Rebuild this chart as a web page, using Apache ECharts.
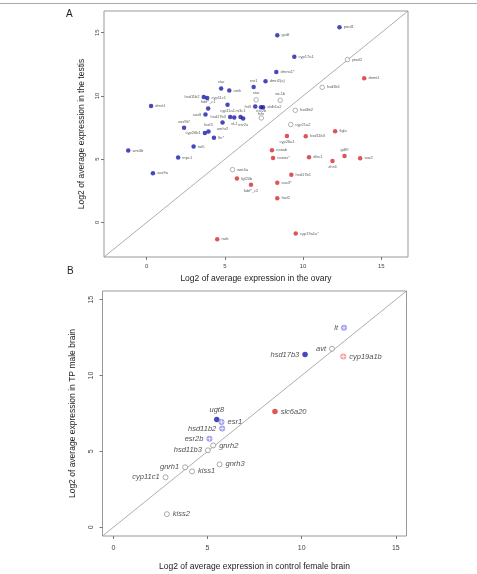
<!DOCTYPE html>
<html>
<head>
<meta charset="utf-8">
<script src="https://cdn.jsdelivr.net/npm/echarts@6/dist/echarts.min.js"></script>
<style>
  html, body { margin: 0; padding: 0; background: #fff; }
  #main { width: 477px; height: 574px; }
</style>
</head>
<body>
<div id="main"></div>
<script>
// ---- panel A: ovary (x) vs testis (y) ----
var aBlueNames = ['piwil1', 'gsdf', 'cyp17a1', 'dmrta1*', 'dmrt2(a)', 'esr1', 'star', 'amh', 'dmrt1', 'hsd11b2',
  'cyp11c1', 'fabf*_c1', 'cyp11a1', 'sox8', 'hsd17b3', 'sf-1', 'nr3c1', 'esr2a', 'sox9b*', 'foxl3',
  'cyp26b1', 'amhr2', 'lhr*', 'tat5', 'mpc1', 'wnt4b', 'sox9a', 'fst3', 'fshr', 'aldh1a2'];
var aBlueX = [12.33, 8.35, 9.44, 8.29, 7.60, 6.84, 4.76, 5.28, 0.28, 3.65,
  3.87, 3.93, 5.17, 3.76, 5.34, 5.60, 6.00, 6.17, 2.39, 3.95,
  3.72, 4.85, 4.30, 3.00, 2.01, -1.18, 0.40, 6.94, 7.31, 7.44];
var aBlueY = [15.42, 14.79, 13.10, 11.89, 11.15, 10.71, 10.58, 10.42, 9.20, 9.92,
  9.84, 9.00, 9.31, 8.53, 8.34, 8.29, 8.34, 8.21, 7.48, 7.18,
  7.07, 7.89, 6.69, 6.01, 5.13, 5.68, 3.89, 9.16, 9.10, 9.10];

var aRedNames = ['dnmt1', 'cyp26a1', 'hsd11b3', 'figla', 'nanab', 'nanos*', 'dlec1', 'gdf9', 'sox2', 'zhs6',
  'hsd17b1', 'fgf20b', 'fabf*_c2', 'sox3*', 'foxl2', 'cyp19a1a*', 'rarb'];
var aRedX = [13.91, 8.97, 10.17, 12.05, 8.01, 8.08, 10.38, 12.65, 13.65, 11.88,
  9.25, 5.77, 6.67, 8.35, 8.35, 9.53, 4.51];
var aRedY = [11.39, 6.84, 6.81, 7.20, 5.71, 5.10, 5.16, 5.26, 5.08, 4.86,
  3.76, 3.47, 2.97, 3.13, 1.92, -0.87, -1.32];

var aOpenNames = ['piwil2', 'hsd3b1', 'star', 'wt-1b', 'esr2b', 'hsd3b2', 'cyp21a2', 'wnt4a'];
var aOpenX = [12.84, 11.22, 7.00, 8.54, 7.33, 9.50, 9.21, 5.49];
var aOpenY = [12.87, 10.68, 9.69, 9.65, 8.26, 8.86, 7.74, 4.18];

// ---- panel B: control female brain (x) vs TP male brain (y) ----
var bBlueNames = ['hsd17b3', 'ugt8'];
var bBlueX = [10.18, 5.49];
var bBlueY = [11.38, 7.10];
var bRedNames = ['slc6a20'];
var bRedX = [8.58];
var bRedY = [7.63];
var bLightBlueNames = ['lt', 'esr1', 'hsd11b2', 'esr2b'];
var bLightBlueX = [12.25, 5.74, 5.78, 5.10];
var bLightBlueY = [13.14, 6.93, 6.51, 5.83];
var bLightRedNames = ['cyp19a1b'];
var bLightRedX = [12.21];
var bLightRedY = [11.25];
var bOpenNames = ['avt', 'gnrh2', 'hsd11b3', 'gnrh3', 'gnrh1', 'kiss1', 'cyp11c1', 'kiss2'];
var bOpenX = [11.61, 5.30, 5.02, 5.64, 3.81, 4.18, 2.77, 2.84];
var bOpenY = [11.76, 5.39, 5.07, 4.14, 3.95, 3.68, 3.29, 0.86];

var ticks = [0, 5, 10, 15];
var rangeA = [-2.73, 16.71];
var rangeB = [-0.58, 15.57];

// label placement (style only)
var posA = {
  'esr1': 'top', 'star': 'top', 'hsd11b2': 'left', 'fabf*_c1': 'top', 'cyp11a1': 'bottom',
  'sox8': 'left', 'hsd17b3': 'left', 'sf-1': 'bottom', 'nr3c1': 'top', 'esr2a': 'bottom',
  'sox9b*': 'top', 'foxl3': 'top', 'cyp26b1': 'left', 'amhr2': 'bottom', 'fst3': 'left',
  'fshr': 'bottom', 'wt-1b': 'top', 'esr2b': 'top', 'cyp26a1': 'bottom', 'gdf9': 'top',
  'zhs6': 'bottom', 'fabf*_c2': 'bottom'
};
var posB = {
  'lt': 'left', 'avt': 'left', 'hsd17b3': 'left', 'ugt8': 'top', 'hsd11b2': 'left',
  'esr2b': 'left', 'hsd11b3': 'left', 'gnrh1': 'left', 'cyp11c1': 'left'
};

var FONT = '"Liberation Sans", Arial, sans-serif';

function pts(names, xs, ys) {
  return names.map(function (n, i) { return { name: n, value: [xs[i], ys[i]] }; });
}

function scatterA(names, xs, ys, fill, border) {
  return {
    type: 'scatter', xAxisIndex: 0, yAxisIndex: 0, symbolSize: 4.5,
    data: pts(names, xs, ys).map(function (d) {
      d.label = { position: posA[d.name] || 'right' };
      return d;
    }),
    itemStyle: { color: fill, borderColor: border, borderWidth: border ? 0.8 : 0 },
    label: { show: true, formatter: '{b}', fontSize: 4, color: '#333', fontFamily: FONT, distance: 2 },
    z: 3
  };
}

function scatterB(names, xs, ys, fill, border, size) {
  return {
    type: 'scatter', xAxisIndex: 1, yAxisIndex: 1, symbolSize: size || 5.5,
    data: pts(names, xs, ys).map(function (d) {
      d.label = { position: posB[d.name] || 'right' };
      return d;
    }),
    itemStyle: { color: fill, borderColor: border, borderWidth: border ? 0.9 : 0 },
    label: { show: true, formatter: '{b}', fontSize: 7.5, fontStyle: 'italic', color: '#222', fontFamily: FONT, distance: 3 },
    z: 3
  };
}

function plusB(names, xs, ys) {
  return {
    type: 'scatter', xAxisIndex: 1, yAxisIndex: 1, symbolSize: 4.5,
    symbol: 'path://M4,0H6V4H10V6H6V10H4V6H0V4H4Z',
    data: pts(names, xs, ys), itemStyle: { color: '#ffffff', opacity: 0.8 },
    silent: true, z: 4
  };
}

function xAx(gi, range, title, gap, lblMargin, fs, tfs) {
  return {
    type: 'value', gridIndex: gi, min: range[0], max: range[1],
    splitLine: { show: false }, axisLine: { show: false, onZero: false },
    axisTick: { show: true, length: 3, customValues: ticks, lineStyle: { color: '#777' } },
    axisLabel: { customValues: ticks, fontSize: fs, color: '#444', margin: lblMargin, fontFamily: FONT },
    name: title, nameLocation: 'middle', nameGap: gap,
    nameTextStyle: { fontSize: tfs, color: '#222', fontFamily: FONT }
  };
}
function yAx(gi, range, title, gap, lblMargin, fs, tfs) {
  return {
    type: 'value', gridIndex: gi, min: range[0], max: range[1],
    splitLine: { show: false }, axisLine: { show: false, onZero: false },
    axisTick: { show: true, length: 3, customValues: ticks, lineStyle: { color: '#777' } },
    axisLabel: { customValues: ticks, fontSize: fs, color: '#444', margin: lblMargin, rotate: 90, fontFamily: FONT },
    name: title, nameLocation: 'middle', nameGap: gap, nameRotate: 90,
    nameTextStyle: { fontSize: tfs, color: '#222', fontFamily: FONT }
  };
}

var chart = echarts.init(document.getElementById('main'), null, { renderer: 'canvas' });

var option = {
  backgroundColor: '#ffffff',
  animation: false,
  grid: [
    { left: 104, top: 11, width: 304, height: 246, show: true, borderColor: '#999', borderWidth: 1 },
    { left: 102.5, top: 291, width: 304, height: 245, show: true, borderColor: '#999', borderWidth: 1 }
  ],
  xAxis: [
    xAx(0, rangeA, 'Log2 of average expression in the ovary', 17, 6, 6, 8.5),
    xAx(1, rangeB, 'Log2 of average expression in control female brain', 26, 9, 7, 8.5)
  ],
  yAxis: [
    yAx(0, rangeA, 'Log2 of average expression in the testis', 18, 4, 6, 8.5),
    yAx(1, rangeB, 'Log2 of average expression in TP male brain', 25, 8, 7, 8.5)
  ],
  graphic: [
    { type: 'line', shape: { x1: 0, y1: 3.5, x2: 477, y2: 3.5 }, style: { stroke: '#aaa', lineWidth: 1 } },
    { type: 'text', left: 66, top: 9, style: { text: 'A', fontSize: 10, fill: '#222', fontFamily: FONT } },
    { type: 'text', left: 67, top: 266, style: { text: 'B', fontSize: 10, fill: '#222', fontFamily: FONT } }
  ],
  series: [
    { type: 'line', xAxisIndex: 0, yAxisIndex: 0, data: [[rangeA[0], rangeA[0]], [rangeA[1], rangeA[1]]],
      symbol: 'none', lineStyle: { color: '#999', width: 0.8 }, silent: true, z: 1 },
    scatterA(aBlueNames, aBlueX, aBlueY, '#1a1aa8', null),
    scatterA(aRedNames, aRedX, aRedY, '#d42a2a', null),
    scatterA(aOpenNames, aOpenX, aOpenY, '#ffffff', '#888'),
    { type: 'line', xAxisIndex: 1, yAxisIndex: 1, data: [[rangeB[0], rangeB[0]], [rangeB[1], rangeB[1]]],
      symbol: 'none', lineStyle: { color: '#999', width: 0.8 }, silent: true, z: 1 },
    scatterB(bBlueNames, bBlueX, bBlueY, '#1a1aa8', null),
    scatterB(bRedNames, bRedX, bRedY, '#d42a2a', null),
    scatterB(bLightBlueNames, bLightBlueX, bLightBlueY, '#8585e6', null, 6),
    scatterB(bLightRedNames, bLightRedX, bLightRedY, '#f08888', null, 6),
    scatterB(bOpenNames, bOpenX, bOpenY, '#ffffff', '#888', 5),
    plusB(bLightBlueNames, bLightBlueX, bLightBlueY),
    plusB(bLightRedNames, bLightRedX, bLightRedY)
  ]
};
chart.setOption(option);
</script>
</body>
</html>
